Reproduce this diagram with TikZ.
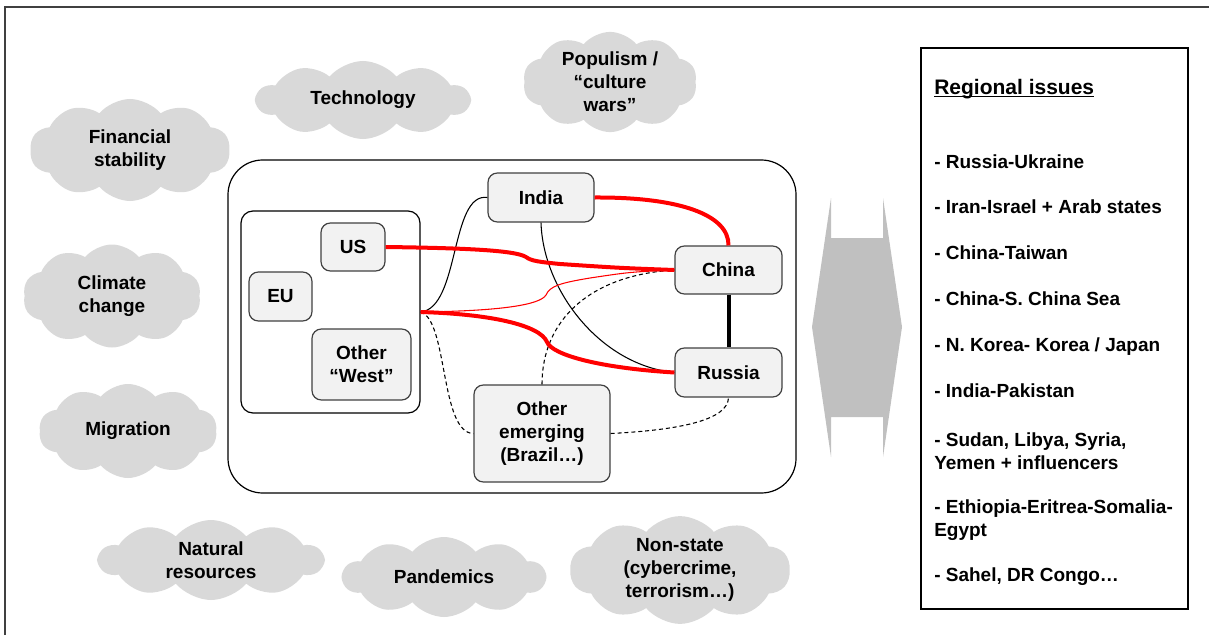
\documentclass[tikz,border=0pt]{standalone}
\usepackage{fontspec}
\setmainfont{Liberation Sans}
\usetikzlibrary{shapes.symbols}
\definecolor{cloudgray}{HTML}{D9D9D9}
\definecolor{nodefill}{HTML}{F2F2F2}
\definecolor{arrowgray}{HTML}{C0C0C0}
\definecolor{framegray}{HTML}{404040}
\newcommand\thickul[1]{\setbox0\hbox{#1}\rlap{\rule[-2.6pt]{\wd0}{1.2pt}}\box0}
\begin{document}
\begin{tikzpicture}[x=0.75pt,y=-0.75pt,
  every node/.style={font=\bfseries\fontsize{14.25}{17.25}\selectfont},
  cloudnode/.style={cloud, cloud puffs=10, cloud puff arc=100, cloud ignores aspect,
    fill=cloudgray, draw=none, align=center, inner sep=0pt},
  actor/.style={draw=framegray, fill=nodefill, rounded corners=7pt, line width=0.9pt,
    align=center, inner sep=0pt},
  groupbox/.style={draw=black, line width=0.9pt, inner sep=0pt},
  redthick/.style={red, line width=3pt},
  redthin/.style={red, line width=0.8pt},
  blackthin/.style={black, line width=0.8pt},
  blackthick/.style={black, line width=3pt},
  dashedlink/.style={black, line width=0.8pt, dash pattern=on 3pt off 2.2pt},
  issue/.style={anchor=west, align=left, inner sep=0pt, text height=10.3pt, text depth=0pt},
  issuetwo/.style={anchor=west, align=left, inner sep=0pt}
]
\useasboundingbox (0,0) rectangle (1209,635);
\draw[framegray, line width=1.1pt] (5,635) -- (5,7) -- (1209,7);

% clouds
\node[cloudnode, minimum width=150pt, minimum height=76.5pt] (fin) at (130,150) {Financial\\stability};
\node[cloudnode, minimum width=133.5pt, minimum height=77.25pt] (clim) at (112,296) {Climate\\change};
\node[cloudnode, minimum width=133.5pt, minimum height=70.5pt] (mig) at (128,431) {Migration};
\node[cloudnode, minimum width=159.75pt, minimum height=58.5pt] (tech) at (363,100) {Technology};
\node[cloudnode, minimum width=130.5pt, minimum height=73.5pt] (pop) at (610,82) {Populism /\\“culture\\wars”};
\node[cloudnode, minimum width=168pt, minimum height=60pt] (nat) at (211,560) {Natural\\resources};
\node[cloudnode, minimum width=152pt, minimum height=60pt] (pan) at (444,577) {Pandemics};
\node[cloudnode, minimum width=165pt, minimum height=75pt] (non) at (680,570) {Non-state\\(cybercrime,\\terrorism…)};

% central grouping
\node[groupbox, rounded corners=26pt, minimum width=426pt, minimum height=249.75pt] (core) at (512,326.5) {};
\node[groupbox, rounded corners=9pt, minimum width=134.25pt, minimum height=151.5pt] (west) at (330.5,312) {};

\node[actor, minimum width=48pt, minimum height=36pt] (us) at (353,247) {US};
\node[actor, minimum width=47.25pt, minimum height=36.75pt] (eu) at (280.5,296.5) {EU};
\node[actor, minimum width=74.25pt, minimum height=53.25pt] (ow) at (361.5,364.5) {Other\\“West”};
\node[actor, minimum width=79.5pt, minimum height=36.75pt] (india) at (541,197.5) {India};
\node[actor, minimum width=80.25pt, minimum height=36pt] (china) at (728.5,270) {China};
\node[actor, minimum width=80.25pt, minimum height=36.75pt] (russia) at (728.5,372.5) {Russia};
\node[actor, minimum width=102pt, minimum height=72.75pt] (oe) at (542,433.5) {Other\\emerging\\(Brazil…)};

% connectors
\draw[blackthin] (west.east) .. controls (460,308) and (450,192) .. (india.west);
\draw[blackthin] (india.south) .. controls (543,290) and (600,365) .. (russia.west);
\draw[dashedlink] (west.east) .. controls (448,320) and (440,433) .. (oe.west);
\draw[dashedlink] (oe.north) .. controls (542,320) and (590,275) .. (china.west);
\draw[dashedlink] (oe.east) .. controls (680,430) and (728,420) .. (russia.south);
\draw[redthick] (us.east) .. controls (460,248) and (515,250) .. (526,257)
  .. controls (531,261) and (540,262) .. (560,264) .. controls (620,268) .. (china.west);
\draw[redthick] (india.east) .. controls (680,197) and (729,215) .. (china.north);
\draw[redthin] (west.east) .. controls (500,311) and (540,305) .. (546,295)
  .. controls (550,286) and (560,283) .. (590,278) .. controls (630,272) .. (china.west);
\draw[redthick] (west.east) .. controls (490,314) and (540,325) .. (547,342)
  .. controls (552,355) and (600,368) .. (russia.west);
\draw[blackthick] (china.south) -- (russia.north);

% double arrow
\fill[arrowgray] (831,198) -- (831,238) -- (883,238) -- (883,198) -- (902,327) -- (883,457)
  -- (883,417) -- (831,417) -- (831,457) -- (812,327) -- cycle;

% regional issues
\node[draw=black, line width=1pt, minimum width=200.25pt, minimum height=420.75pt, inner sep=0pt] (reg) at (1054.5,328.5) {};
\node[anchor=base west, inner sep=0pt, font=\bfseries\fontsize{15.75}{18}\selectfont] (regtitle) at (934,94) {\thickul{Regional issues}};
\node[issue] (i1) at (934,162) {- Russia-Ukraine};
\node[issue] (i2) at (934,207) {- Iran-Israel + Arab states};
\node[issue] (i3) at (934,253) {- China-Taiwan};
\node[issue] (i4) at (934,299) {- China-S. China Sea};
\node[issue] (i5) at (934,345) {- N. Korea- Korea / Japan};
\node[issue] (i6) at (934,391) {- India-Pakistan};
\node[issuetwo] (i7) at (934,451) {- Sudan, Libya, Syria,\\Yemen + influencers};
\node[issuetwo] (i8) at (934,520.5) {- Ethiopia-Eritrea-Somalia-\\Egypt};
\node[issue] (i9) at (934,575) {- Sahel, DR Congo…};
\end{tikzpicture}
\end{document}
